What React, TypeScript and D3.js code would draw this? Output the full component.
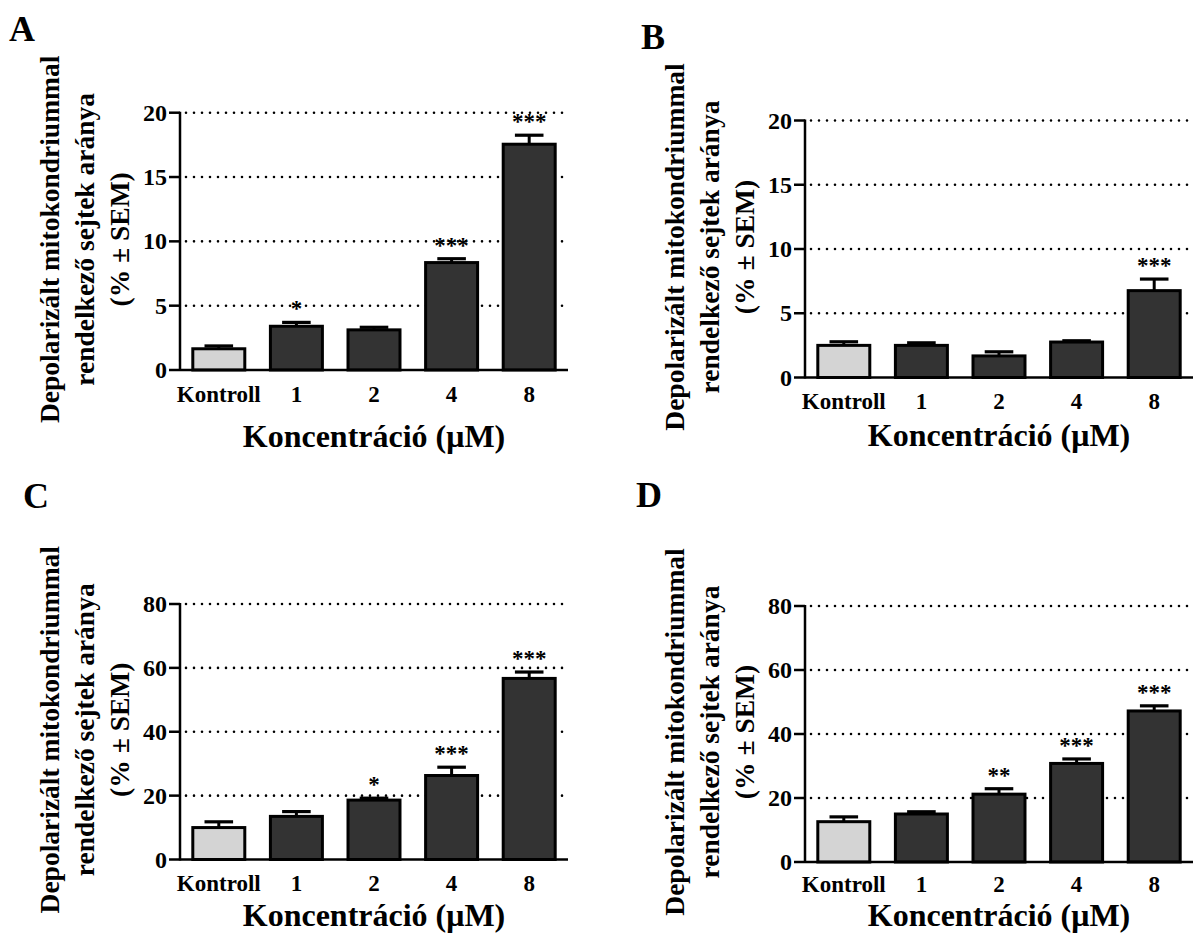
import React from 'react';
import * as d3 from 'd3';

const categories = ['Kontroll', '1', '2', '4', '8'];

const meanA = [1.65, 3.4, 3.12, 8.35, 17.55];
const semA = [0.22, 0.3, 0.2, 0.3, 0.7];
const sigA = ['', '*', '', '***', '***'];

const meanB = [2.5, 2.5, 1.68, 2.76, 6.76];
const semB = [0.28, 0.2, 0.32, 0.1, 0.9];
const sigB = ['', '', '', '', '***'];

const meanC = [10.0, 13.5, 18.6, 26.3, 56.7];
const semC = [1.8, 1.5, 0.6, 2.6, 2.0];
const sigC = ['', '', '*', '***', '***'];

const meanD = [12.6, 15.0, 21.2, 30.8, 47.2];
const semD = [1.5, 0.7, 1.7, 1.4, 1.6];
const sigD = ['', '', '**', '***', '***'];

const ticksSmall = [0, 5, 10, 15, 20];
const ticksLarge = [0, 20, 40, 60, 80];

const yTitle = ['Depolarizált mitokondriummal', 'rendelkező sejtek aránya', '(% ± SEM)'];
const xTitle = 'Koncentráció (μM)';

const FONT = '"Liberation Serif", "Times New Roman", serif';
const PLOT_W = 388;

type PanelProps = {
  letter: string;
  letterX: number;
  letterY: number;
  left: number;
  top: number;
  bottom: number;
  labelGap: number;
  titleY: number;
  means: number[];
  sems: number[];
  sigs: string[];
  ticks: number[];
};

const txt = (size: number): React.CSSProperties => ({ fontFamily: FONT, fontWeight: 700, fontSize: size });

const Panel = ({ letter, letterX, letterY, left, top, bottom, labelGap, titleY, means, sems, sigs, ticks }: PanelProps) => {
  const right = left + PLOT_W;
  const x = d3.scaleBand<string>().domain(categories).range([left, right]).paddingInner(0.33).paddingOuter(0.165);
  const y = d3.scaleLinear().domain([0, d3.max(ticks) as number]).range([bottom, top]);
  const bw = x.bandwidth();
  const capW = bw * 0.55;
  const midY = (top + bottom) / 2 - 2;

  return (
    <g fill="#000">
      <text x={letterX} y={letterY} style={txt(36)}>{letter}</text>

      {/* dotted gridlines */}
      {ticks.filter(t => t > 0).map(t => (
        <line key={'g' + t} x1={left + 6} x2={right} y1={y(t)} y2={y(t)}
          stroke="#000" strokeWidth={2.6} strokeDasharray="0 8" strokeLinecap="round" />
      ))}

      {/* bars + error bars */}
      {categories.map((c, i) => {
        const bx = x(c) as number;
        const cx = bx + bw / 2;
        const yTop = y(means[i]);
        const yCap = y(means[i] + sems[i]);
        return (
          <g key={c}>
            <line x1={cx} x2={cx} y1={yTop} y2={yCap} stroke="#000" strokeWidth={3} />
            <line x1={cx - capW / 2} x2={cx + capW / 2} y1={yCap} y2={yCap} stroke="#000" strokeWidth={3.2} />
            <rect x={bx} y={yTop} width={bw} height={bottom - yTop}
              fill={i === 0 ? '#d4d4d4' : '#333333'} stroke="#000" strokeWidth={3} />
            {sigs[i] && (
              <text x={cx} y={yCap - 6} textAnchor="middle" style={txt(23)}>{sigs[i]}</text>
            )}
            <text x={cx} y={bottom + labelGap} textAnchor="middle" style={txt(23)}>{c}</text>
          </g>
        );
      })}

      {/* axes */}
      <line x1={left} x2={left} y1={top - 1} y2={bottom + 1} stroke="#000" strokeWidth={2.5} />
      <line x1={left} x2={right} y1={bottom} y2={bottom} stroke="#000" strokeWidth={2.5} />
      {ticks.map(t => (
        <g key={'t' + t}>
          <line x1={left - 11} x2={left} y1={y(t)} y2={y(t)} stroke="#000" strokeWidth={2.5} />
          <text x={left - 13} y={y(t) + 8} textAnchor="end" style={txt(24)}>{t}</text>
        </g>
      ))}

      {/* axis titles */}
      <text x={(left + right) / 2} y={titleY} textAnchor="middle" style={txt(32)}>{xTitle}</text>
      {yTitle.map((s, k) => (
        <text key={s} transform={`translate(${left - 121 + k * 35},${midY}) rotate(-90)`}
          textAnchor="middle" style={txt(27.5)}>{s}</text>
      ))}
    </g>
  );
};

export default function App() {
  return (
    <svg width={1199} height={933} style={{ position: 'absolute', left: 0, top: 0, background: '#fff' }}>
      <rect width={1199} height={933} fill="#fff" />
      <Panel letter="A" letterX={9} letterY={41} left={180} top={112.7} bottom={370} labelGap={32} titleY={447}
        means={meanA} sems={semA} sigs={sigA} ticks={ticksSmall} />
      <Panel letter="B" letterX={641} letterY={49} left={805} top={120.5} bottom={377.5} labelGap={31} titleY={446}
        means={meanB} sems={semB} sigs={sigB} ticks={ticksSmall} />
      <Panel letter="C" letterX={23} letterY={508} left={180} top={604} bottom={859.5} labelGap={31.5} titleY={926}
        means={meanC} sems={semC} sigs={sigC} ticks={ticksLarge} />
      <Panel letter="D" letterX={636} letterY={507} left={805} top={606} bottom={862} labelGap={29.5} titleY={926}
        means={meanD} sems={semD} sigs={sigD} ticks={ticksLarge} />
    </svg>
  );
}
